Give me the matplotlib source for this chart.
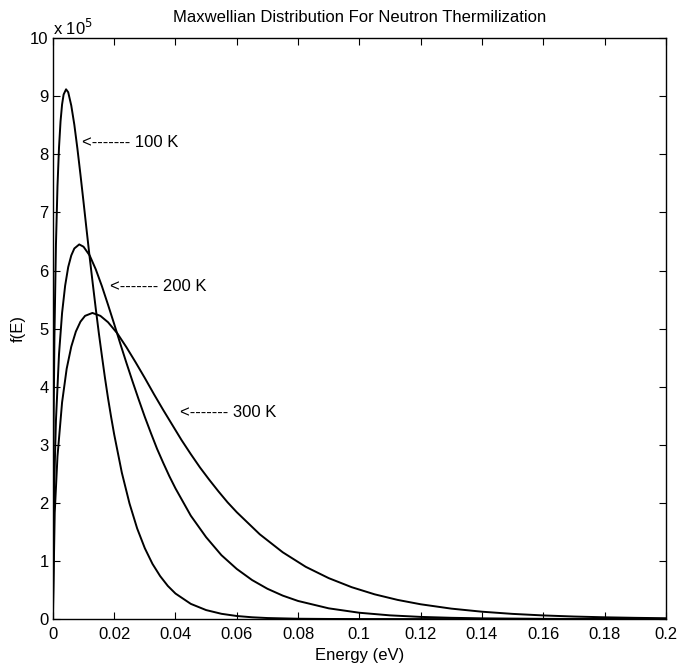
import matplotlib
matplotlib.use("Agg")
import matplotlib.pyplot as plt

# Energies (eV) and f(E) values (in units of 1e5)
e_100k = [0, 0.0002, 0.0005, 0.001, 0.0015, 0.002, 0.0025, 0.003, 0.0035, 0.0043,
          0.005, 0.006, 0.007, 0.008, 0.009, 0.010, 0.011, 0.012, 0.013, 0.014,
          0.015, 0.016, 0.017, 0.018, 0.019, 0.020,
          0.0225, 0.025, 0.0275, 0.030, 0.0325, 0.035, 0.0375, 0.040,
          0.045, 0.050, 0.055, 0.060, 0.065, 0.070,
          0.080, 0.090, 0.100, 0.200]
f_100k = [0, 3.17, 4.84, 6.45, 7.45, 8.12, 8.57, 8.86, 9.03, 9.12,
          9.07, 8.84, 8.51, 8.10, 7.65, 7.18, 6.70, 6.23, 5.78, 5.34,
          4.92, 4.53, 4.15, 3.80, 3.48, 3.18,
          2.52, 1.99, 1.56, 1.22, 0.95, 0.74, 0.571, 0.44,
          0.262, 0.155, 0.091, 0.053, 0.031, 0.018,
          0.006, 0.002, 0.0006, 0]

e_200k = [0, 0.0004, 0.001, 0.002, 0.003, 0.004, 0.005, 0.006, 0.007, 0.0086,
          0.010, 0.012, 0.014, 0.016, 0.018, 0.020, 0.022, 0.024, 0.026, 0.028,
          0.030, 0.032, 0.034, 0.036, 0.038, 0.040,
          0.045, 0.050, 0.055, 0.060, 0.065, 0.070, 0.075, 0.080,
          0.090, 0.100, 0.110, 0.120, 0.130, 0.140,
          0.160, 0.180, 0.200]
f_200k = [0, 2.24, 3.42, 4.56, 5.27, 5.74, 6.06, 6.26, 6.38, 6.45,
          6.41, 6.26, 6.02, 5.73, 5.41, 5.08, 4.74, 4.41, 4.09, 3.78,
          3.48, 3.20, 2.93, 2.69, 2.46, 2.25,
          1.78, 1.41, 1.10, 0.863, 0.672, 0.522, 0.404, 0.312,
          0.185, 0.109, 0.064, 0.0375, 0.022, 0.0127,
          0.0043, 0.0014, 0.0005]

e_300k = [0, 0.0006, 0.0015, 0.003, 0.0045, 0.006, 0.0075, 0.009, 0.0105, 0.0129,
          0.0155, 0.018, 0.021, 0.024, 0.027, 0.030, 0.033, 0.036, 0.039, 0.042,
          0.045, 0.048, 0.051, 0.054, 0.057, 0.060,
          0.0675, 0.075, 0.0825, 0.090, 0.0975, 0.105, 0.1125, 0.120,
          0.130, 0.140, 0.150, 0.160, 0.170, 0.180, 0.190, 0.200]
f_300k = [0, 1.83, 2.80, 3.73, 4.31, 4.69, 4.95, 5.12, 5.22, 5.27,
          5.22, 5.11, 4.92, 4.68, 4.42, 4.15, 3.87, 3.60, 3.34, 3.08,
          2.84, 2.61, 2.40, 2.20, 2.01, 1.84,
          1.46, 1.15, 0.90, 0.705, 0.549, 0.426, 0.330, 0.255,
          0.180, 0.127, 0.0894, 0.0627, 0.0439, 0.0307, 0.0214, 0.0149]

labels = ["100 K", "200 K", "300 K"]
label_x = [0.0095, 0.0186, 0.0414]
label_y = [8.21, 5.73, 3.55]

x_ticks = [0, 0.02, 0.04, 0.06, 0.08, 0.1, 0.12, 0.14, 0.16, 0.18, 0.2]
y_ticks = list(range(0, 11))

plt.rcParams['font.family'] = ['Liberation Sans', 'DejaVu Sans']

fig = plt.figure(figsize=(6.78, 6.70), dpi=100)
ax = fig.add_axes([0.078, 0.076, 0.904, 0.867])

for e, f in [(e_100k, f_100k), (e_200k, f_200k), (e_300k, f_300k)]:
    ax.plot(e, f, color='black', linewidth=1.4)

for lab, lx, ly in zip(labels, label_x, label_y):
    ax.text(lx, ly, "<------- " + lab, fontsize=12, ha='left', va='center')

ax.set_xlim(0, 0.2)
ax.set_ylim(0, 10)
ax.set_xticks(x_ticks)
ax.set_xticklabels([f"{t:g}" for t in x_ticks])
ax.set_yticks(y_ticks)
ax.tick_params(direction='in', top=True, right=True, length=5, labelsize=12)
ax.tick_params(axis='x', pad=6)
ax.tick_params(axis='y', pad=3)
for s in ax.spines.values():
    s.set_linewidth(1.0)

ax.text(0.0, 1.0, "x 10$^5$", transform=ax.transAxes, fontsize=12,
        ha='left', va='bottom')
ax.set_title("Maxwellian Distribution For Neutron Thermilization", fontsize=12, pad=12)
ax.set_xlabel("Energy (eV)", fontsize=12, labelpad=4)
ax.set_ylabel("f(E)", fontsize=12, labelpad=3)

fig.savefig("out.png", dpi=100)
